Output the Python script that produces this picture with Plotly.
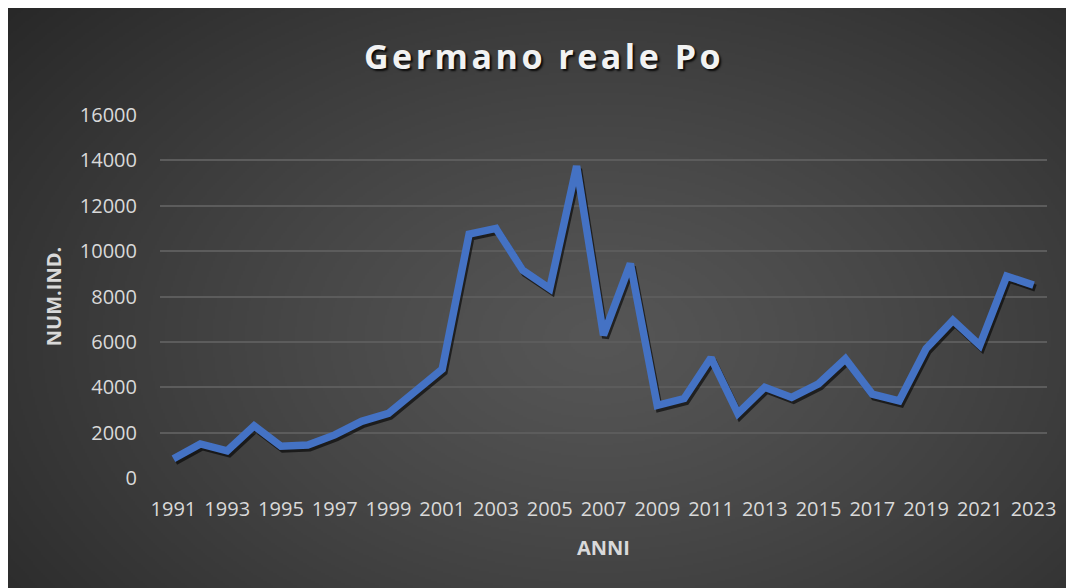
import base64
import struct
import zlib

import numpy as np
import plotly.graph_objects as go

# ---- data ----
years = list(range(1991, 2024))
values = [850, 1500, 1200, 2300, 1400, 1450, 1900, 2500, 2850, 3800, 4800,
          10750, 11000, 9150, 8350, 13750, 6300, 9450, 3200, 3500, 5300,
          2850, 4000, 3550, 4150, 5250, 3700, 3400, 5700, 6950, 5850, 8900, 8500]
y_ticks = [0, 2000, 4000, 6000, 8000, 10000, 12000, 14000, 16000]
x_ticks = years[::2]
title_text = "Germano reale Po"
x_title = "ANNI"
y_title = "NUM.IND."

# ---- layout geometry (pixels, figure coordinates) ----
W, H = 1074, 588
L, R, T, B = 152, 35, 107, 118
PW, PH = W - L - R, H - T - B

# ---- radial gradient background as PNG ----
def gradient_png(w, h):
    yy, xx = np.mgrid[0:h, 0:w].astype(float)
    cx, cy = w * 0.55, h * 0.56
    r = np.sqrt(((xx - cx) / (w * 0.62)) ** 2 + ((yy - cy) / (h * 0.75)) ** 2)
    r = np.clip(r / 1.25, 0, 1)
    c0, c1 = 86.0, 36.0
    img = (c0 - (c0 - c1) * r ** 1.2).astype(np.uint8)
    raw = b"".join(b"\x00" + img[i].tobytes() for i in range(h))

    def chunk(tag, data):
        c = struct.pack(">I", len(data)) + tag + data
        return c + struct.pack(">I", zlib.crc32(tag + data) & 0xFFFFFFFF)

    png = b"\x89PNG\r\n\x1a\n"
    png += chunk(b"IHDR", struct.pack(">IIBBBBB", w, h, 8, 0, 0, 0, 0))
    png += chunk(b"IDAT", zlib.compress(raw, 9))
    png += chunk(b"IEND", b"")
    return "data:image/png;base64," + base64.b64encode(png).decode()

bg_src = gradient_png(W // 2, H // 2)

# shadow offsets in pixels -> data units
sx_px, sy_px = 2, 3
x_range = [1990.5, 2023.5]
y_range = [0, 16000]
dx = sx_px / PW * (x_range[1] - x_range[0])
dy = sy_px / PH * (y_range[1] - y_range[0])

fig = go.Figure()
# invisible trace anchoring the main (visible) axes
fig.add_trace(go.Scatter(
    x=years, y=values, mode="lines",
    line=dict(color="rgba(0,0,0,0)", width=0),
    hoverinfo="skip", showlegend=False,
))
# shadow (drawn on shifted overlay axes)
fig.add_trace(go.Scatter(
    x=years, y=values, mode="lines", xaxis="x2", yaxis="y2",
    line=dict(color="rgba(0,0,0,0.6)", width=7),
    hoverinfo="skip", showlegend=False,
))
# main line (on overlay axes drawn above the shadow)
fig.add_trace(go.Scatter(
    x=years, y=values, mode="lines", xaxis="x3", yaxis="y3",
    line=dict(color="#4472C4", width=7.5),
    showlegend=False,
))

tick_font = dict(family="Open Sans", size=20, color="#d9d9d9")
title_font = dict(family="Open Sans", size=20, color="#d9d9d9", weight="bold")

fig.update_layout(
    width=W, height=H,
    margin=dict(l=L, r=R, t=T, b=B),
    paper_bgcolor="#2a2a2a",
    plot_bgcolor="rgba(0,0,0,0)",
    title=dict(
        text='<span style="letter-spacing:3.5px">' + title_text + "</span>",
        x=536 / W, xref="container", xanchor="center",
        y=1 - 49 / H, yref="container", yanchor="middle",
        font=dict(family="Open Sans", size=34, color="#f2f2f2", weight="bold",
                  shadow="2px 2px 2px rgba(0,0,0,0.85)"),
    ),
    xaxis=dict(
        range=x_range, tickmode="array", tickvals=x_ticks,
        ticktext=[str(v) for v in x_ticks],
        showgrid=False, zeroline=False, showline=False,
        ticks="outside", ticklen=13, tickcolor="rgba(0,0,0,0)",
        tickfont=tick_font,
        title=dict(text=x_title, font=title_font, standoff=19),
    ),
    yaxis=dict(
        range=y_range, tickmode="array", tickvals=y_ticks,
        ticktext=[str(v) for v in y_ticks],
        showgrid=True, gridcolor="#5c5c5c", gridwidth=1.5,
        zeroline=False, showline=False,
        ticks="outside", ticklen=18, tickcolor="rgba(0,0,0,0)",
        tickfont=tick_font,
        title=dict(text=y_title, font=title_font, standoff=12),
    ),
    xaxis2=dict(range=[x_range[0] - dx, x_range[1] - dx], overlaying="x",
                visible=False),
    yaxis2=dict(range=[y_range[0] + dy, y_range[1] + dy], overlaying="y",
                visible=False),
    xaxis3=dict(range=x_range, overlaying="x", visible=False),
    yaxis3=dict(range=y_range, overlaying="y", visible=False),
    images=[dict(
        source=bg_src, xref="paper", yref="paper",
        x=-L / PW, y=(H - B) / PH,
        sizex=W / PW, sizey=H / PH,
        xanchor="left", yanchor="top", sizing="stretch", layer="below",
    )],
)

fig.write_html("out.html")
